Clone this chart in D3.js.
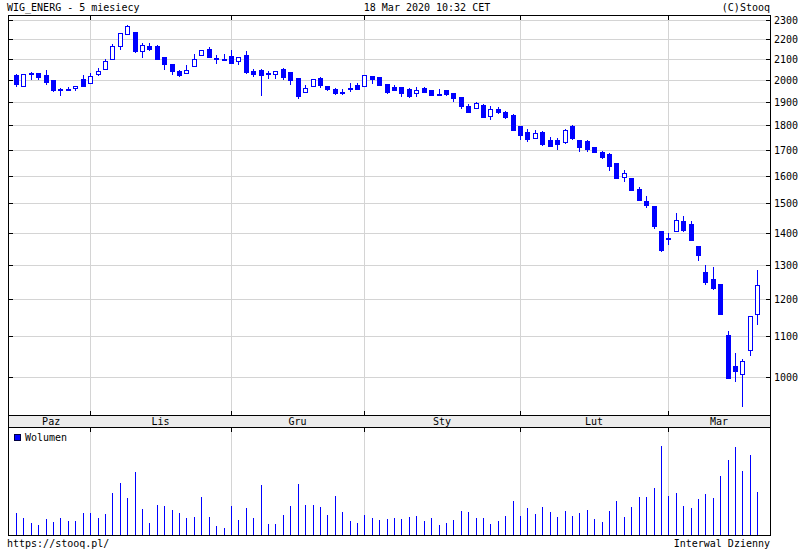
<!DOCTYPE html>
<html><head><meta charset="utf-8">
<script src="https://cdn.jsdelivr.net/npm/d3@7"></script>
<style>
body{margin:0;background:#fff}
svg{display:block}
text{font-family:"DejaVu Sans Mono",monospace;font-size:10px;fill:#000}
</style>
</head><body>
<svg id="c" width="800" height="550"></svg>
<script>
const dates = [
"2019-10-18","2019-10-21","2019-10-22","2019-10-23","2019-10-24","2019-10-25","2019-10-28","2019-10-29","2019-10-30","2019-10-31",
"2019-11-04","2019-11-05","2019-11-06","2019-11-07","2019-11-08","2019-11-12","2019-11-13","2019-11-14","2019-11-15","2019-11-18",
"2019-11-19","2019-11-20","2019-11-21","2019-11-22","2019-11-25","2019-11-26","2019-11-27","2019-11-28","2019-11-29","2019-12-02",
"2019-12-03","2019-12-04","2019-12-05","2019-12-06","2019-12-09","2019-12-10","2019-12-11","2019-12-12","2019-12-13","2019-12-16",
"2019-12-17","2019-12-18","2019-12-19","2019-12-20","2019-12-23","2019-12-27","2019-12-30","2020-01-02","2020-01-03","2020-01-07",
"2020-01-08","2020-01-09","2020-01-10","2020-01-13","2020-01-14","2020-01-15","2020-01-16","2020-01-17","2020-01-20","2020-01-21",
"2020-01-22","2020-01-23","2020-01-24","2020-01-27","2020-01-28","2020-01-29","2020-01-30","2020-01-31","2020-02-03","2020-02-04",
"2020-02-05","2020-02-06","2020-02-07","2020-02-10","2020-02-11","2020-02-12","2020-02-13","2020-02-14","2020-02-17","2020-02-18",
"2020-02-19","2020-02-20","2020-02-21","2020-02-24","2020-02-25","2020-02-26","2020-02-27","2020-02-28","2020-03-02","2020-03-03",
"2020-03-04","2020-03-05","2020-03-06","2020-03-09","2020-03-10","2020-03-11","2020-03-12","2020-03-13","2020-03-16","2020-03-17",
"2020-03-18"];
const open = [
2022,1973,2030,2031,2022,2000,1958,1957,1963,2003,
1984,2027,2050,2102,2166,2226,2235,2138,2165,2165,
2108,2074,2044,2031,2065,2120,2148,2107,2101,2115,
2089,2120,2042,2045,2031,2028,2052,2037,2008,1943,
1972,2009,1971,1957,1943,1962,1975,1972,2017,2012,
1980,1967,1966,1957,1939,1961,1955,1936,1955,1939,
1923,1882,1873,1887,1840,1870,1855,1842,1796,1770,
1748,1771,1737,1737,1732,1798,1737,1734,1710,1691,
1684,1649,1595,1592,1551,1508,1491,1406,1385,1407,
1439,1429,1358,1277,1259,1243,1105,1027,1009,1065,
1158];
const high = [
2028,2028,2036,2034,2047,2000,1964,1966,1973,2023,
2033,2055,2099,2173,2230,2275,2235,2178,2181,2168,
2111,2074,2047,2071,2125,2146,2160,2120,2125,2143,
2108,2141,2052,2050,2042,2044,2055,2037,2008,1977,
2006,2012,1971,1963,1957,1984,1984,2022,2017,2015,
1980,1975,1966,1961,1966,1966,1955,1957,1955,1939,
1923,1890,1900,1890,1882,1878,1860,1846,1796,1783,
1779,1774,1751,1746,1784,1801,1737,1738,1710,1695,
1688,1649,1622,1592,1558,1526,1491,1406,1399,1467,
1456,1439,1358,1299,1293,1243,1114,1058,1044,1154,
1284];
const low = [
1972,1973,2004,2004,1983,1951,1932,1952,1955,1971,
1984,2023,2050,2102,2148,2226,2136,2111,2145,2099,
2053,2029,2020,2031,2065,2120,2108,2079,2099,2079,
2074,2031,2018,1931,2008,2008,2006,1981,1919,1943,
1972,1966,1952,1937,1934,1951,1960,1972,1987,1975,
1941,1952,1927,1923,1927,1944,1931,1931,1931,1906,
1872,1857,1873,1836,1827,1852,1831,1781,1743,1736,
1746,1720,1716,1704,1728,1741,1696,1696,1689,1669,
1622,1593,1579,1547,1511,1488,1417,1343,1363,1407,
1407,1376,1316,1242,1229,1158,999,992,936,1054,
1133];
const close = [
1981,2028,2032,2015,1992,1955,1959,1957,1973,1973,
2017,2042,2090,2163,2230,2268,2141,2168,2151,2099,
2074,2044,2025,2045,2102,2143,2111,2106,2102,2079,
2108,2036,2028,2025,2032,2044,2015,2000,1928,1961,
2003,1975,1958,1941,1943,1963,1960,2022,2006,1975,
1946,1952,1941,1928,1955,1944,1931,1935,1936,1919,
1883,1857,1894,1836,1869,1856,1836,1781,1760,1741,
1766,1724,1716,1721,1780,1748,1712,1704,1690,1673,
1635,1593,1610,1549,1513,1495,1423,1346,1384,1443,
1410,1376,1329,1250,1232,1158,999,1016,1039,1154,
1239];
const volume = [
21.7,17,12,10,16,13,17,14,14,22,
22,17,21,42,52,37,63,26,12,30,
29,25,22,17,18,38,18,9,7,29,
15,27,17,50,11,11,20,29,51,30,
30,28,20,39,23,14,12,20,17,15,
16,17,16,18,19,14,17,10,12,15,
24,23,17,17,11,14,19,34,19,27,
21,28,23,18,24,19,22,25,16,13,
24,34,18,28,38,38,47,89,39,42,
29,27,36,41,37,59,75,88,64,80,
43];
const monthNames = ["Paz","Lis","Gru","Sty","Lut","Mar"];
const priceTicks = [1000,1100,1200,1300,1400,1500,1600,1700,1800,1900,2000,2100,2200,2300];

const W = 800, H = 550;
const L = 8, R = 770, T = 15, PB = 415, SB = 427, VB = 535;
const BLUE = "#0000ff", GRID = "#d4d4d4";

const svg = d3.select("#c");
const x = d3.scalePoint().domain(dates).range([16, 757.3]);
const y = d3.scaleLog().domain([916, 2327]).range([PB, T]);
const yv = d3.scaleLinear().domain([0, 108]).range([VB, SB]);
const step = x.step();
const X = d => Math.round(x(d));

// month starts
const mStart = [];
dates.forEach((d, i) => { if (i === 0 || d.slice(0,7) !== dates[i-1].slice(0,7)) mStart.push(i); });

const g = svg.append("g");

// horizontal grid
g.selectAll(".hg").data(priceTicks).enter().append("line")
  .attr("x1", L).attr("x2", R)
  .attr("y1", d => Math.round(y(d)) + 0.5).attr("y2", d => Math.round(y(d)) + 0.5)
  .attr("stroke", GRID).attr("stroke-width", 1);

// vertical month grid (main + volume)
const bounds = mStart.slice(1);
bounds.forEach(i => {
  const xx = X(dates[i]) + 0.5;
  g.append("line").attr("x1", xx).attr("x2", xx).attr("y1", T).attr("y2", PB).attr("stroke", GRID);
  g.append("line").attr("x1", xx).attr("x2", xx).attr("y1", SB).attr("y2", VB).attr("stroke", GRID);
});

// strip
g.append("rect").attr("x", L).attr("y", PB).attr("width", R - L).attr("height", SB - PB).attr("fill", "#ececec");

// candles
const idx = d3.range(dates.length);
const cg = g.append("g");
idx.forEach(i => {
  const cx = X(dates[i]);
  const yh = Math.round(y(high[i])), yl = Math.round(y(low[i]));
  const yo = Math.round(y(open[i])), yc = Math.round(y(close[i]));
  cg.append("line").attr("x1", cx + 0.5).attr("x2", cx + 0.5).attr("y1", yh).attr("y2", yl + 1)
    .attr("stroke", BLUE).attr("stroke-width", 1);
  const top = Math.min(yo, yc), bot = Math.max(yo, yc);
  if (bot - top < 2 || close[i] < open[i]) {
    cg.append("rect").attr("x", cx - 2).attr("y", top).attr("width", 5).attr("height", Math.max(2, bot - top + 1))
      .attr("fill", BLUE);
  } else {
    cg.append("rect").attr("x", cx - 1.5).attr("y", top + 0.5).attr("width", 4).attr("height", bot - top)
      .attr("fill", "#fff").attr("stroke", BLUE).attr("stroke-width", 1);
  }
});

// volume bars
g.append("g").selectAll("line").data(idx).enter().append("line")
  .attr("x1", i => X(dates[i]) + 0.5).attr("x2", i => X(dates[i]) + 0.5)
  .attr("y1", VB).attr("y2", i => Math.round(yv(volume[i])))
  .attr("stroke", BLUE).attr("stroke-width", 1);

// frame
const fr = g.append("g").attr("stroke", "#000").attr("stroke-width", 1).attr("fill", "none");
fr.append("line").attr("x1", L + 0.5).attr("x2", L + 0.5).attr("y1", T).attr("y2", VB + 1);
fr.append("line").attr("x1", R + 0.5).attr("x2", R + 0.5).attr("y1", T).attr("y2", VB + 1);
fr.append("line").attr("x1", L).attr("x2", R + 1).attr("y1", T + 0.5).attr("y2", T + 0.5);
fr.append("line").attr("x1", L).attr("x2", R + 1).attr("y1", PB + 0.5).attr("y2", PB + 0.5);
fr.append("line").attr("x1", L).attr("x2", R + 1).attr("y1", SB + 0.5).attr("y2", SB + 0.5);
fr.append("line").attr("x1", L).attr("x2", R + 1).attr("y1", VB + 0.5).attr("y2", VB + 0.5);

// price ticks (inside, both sides)
priceTicks.forEach(v => {
  const yy = Math.round(y(v)) + 0.5;
  fr.append("line").attr("x1", L).attr("x2", L + 5).attr("y1", yy).attr("y2", yy);
  fr.append("line").attr("x1", R - 4).attr("x2", R + 1).attr("y1", yy).attr("y2", yy);
});
// month ticks
bounds.forEach(i => {
  const xx = X(dates[i]) + 0.5;
  fr.append("line").attr("x1", xx).attr("x2", xx).attr("y1", T).attr("y2", T + 5);
  fr.append("line").attr("x1", xx).attr("x2", xx).attr("y1", PB - 4).attr("y2", PB + 1);
  fr.append("line").attr("x1", xx).attr("x2", xx).attr("y1", SB).attr("y2", SB + 5);
});

// price labels
g.selectAll(".pl").data(priceTicks).enter().append("text")
  .attr("x", 774).attr("y", d => Math.round(y(d)) + 4).text(d => d);

// month labels
mStart.forEach((s, k) => {
  const a = k === 0 ? x(dates[s]) - step / 2 : X(dates[s]);
  const b = k + 1 < mStart.length ? X(dates[mStart[k + 1]]) : R;
  g.append("text").attr("x", (a + b) / 2).attr("y", 425).attr("text-anchor", "middle").text(monthNames[k]);
});

// legend
g.append("rect").attr("x", 14.5).attr("y", 434.5).attr("width", 6).attr("height", 6)
  .attr("fill", BLUE).attr("stroke", "#000040");
g.append("text").attr("x", 25).attr("y", 441).text("Wolumen");

// header / footer
g.append("text").attr("x", 7).attr("y", 11).text("WIG_ENERG - 5 miesiecy");
g.append("text").attr("x", 427).attr("y", 11).attr("text-anchor", "middle").text("18 Mar 2020 10:32 CET");
g.append("text").attr("x", R).attr("y", 11).attr("text-anchor", "end").text("(C)Stooq");
g.append("text").attr("x", 7).attr("y", 547).text("https://stooq.pl/");
g.append("text").attr("x", R).attr("y", 547).attr("text-anchor", "end").text("Interwal Dzienny");
</script>
</body></html>
